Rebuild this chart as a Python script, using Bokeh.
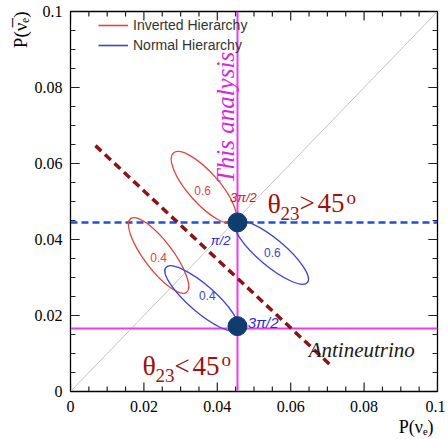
import math
from bokeh.plotting import figure
from bokeh.models import (Range1d, FixedTicker, Label, Legend, LegendItem, Title)
from bokeh.embed import file_html
from bokeh.resources import INLINE

# ---------------- data ----------------
x_ticks = [0.0, 0.02, 0.04, 0.06, 0.08, 0.1]
x_tick_labels = ["0", "0.02", "0.04", "0.06", "0.08", "0.1"]
y_ticks = [0.0, 0.02, 0.04, 0.06, 0.08, 0.1]
y_tick_labels = ["0", "0.02", "0.04", "0.06", "0.08", "0.1"]
minor_ticks = [0.005, 0.01, 0.015, 0.025, 0.03, 0.035, 0.045,
               0.05, 0.055, 0.065, 0.07, 0.075, 0.085, 0.09, 0.095]
x_title = "P(\u03bd\u2091)"
y_title = "P(\u03bd\u0305\u2091)"

hierarchy_names = ["Inverted Hierarchy", "Normal Hierarchy"]
hierarchy_colors = {"IH": "#e8423c", "NH": "#3a44d8"}

# ellipses (sin^2 theta23 = 0.6 / 0.4) for each hierarchy
ell_hier = ["IH", "IH", "NH", "NH"]
ell_label = ["0.6", "0.4", "0.6", "0.4"]
ell_x = [0.0363, 0.0240, 0.0548, 0.0357]
ell_y = [0.0537, 0.0358, 0.0366, 0.0245]
ell_major = [0.0250, 0.0252, 0.0255, 0.0257]
ell_minor = [0.0082, 0.0075, 0.0071, 0.0071]
ell_angle_deg = [-48.5, -52.8, -40.0, -41.0]
ell_label_x = [0.0360, 0.0240, 0.0550, 0.0373]
ell_label_y = [0.0529, 0.0353, 0.0366, 0.0253]

# delta_CP labels
delta_text = ["3\u03c0/2", "\u03c0/2", "3\u03c0/2"]
delta_hier = ["IH", "NH", "NH"]
delta_x = [0.0471, 0.0409, 0.0525]
delta_y = [0.0511, 0.0397, 0.0182]

# measured points ("This analysis")
analysis_p_nu = 0.0455
analysis_p_nubar = 0.0166
nh_max_p_nubar = 0.0445
point_x = [0.0455, 0.0455]
point_y = [0.0445, 0.0172]

diag_x = [0.0, 0.1]
diag_y = [0.0, 0.1]
octant_x = [0.0068, 0.0710]
octant_y = [0.0647, 0.0068]
full_x = [0.0, 0.1]

# ---------------- figure ----------------
p = figure(width=445, height=439, x_range=Range1d(0, 0.1), y_range=Range1d(0, 0.1),
           output_backend="svg", toolbar_location=None,
           min_border_left=70, min_border_right=8, min_border_top=11, min_border_bottom=48)
p.xgrid.visible = False
p.ygrid.visible = False
p.outline_line_color = "black"
p.outline_line_width = 1.3
p.background_fill_color = "white"
p.border_fill_color = "white"

for ax, ticks, labels, standoff in [(p.xaxis[0], x_ticks, x_tick_labels, 9),
                                    (p.yaxis[0], y_ticks, y_tick_labels, 8)]:
    ax.ticker = FixedTicker(ticks=ticks, minor_ticks=[])
    ax.major_tick_in = 0
    ax.major_tick_out = 0
    ax.minor_tick_in = 0
    ax.minor_tick_out = 0
    ax.axis_line_color = "black"
    ax.major_label_overrides = {t: l for t, l in zip(ticks, labels)}
    ax.major_label_text_font = "Liberation Serif"
    ax.major_label_text_font_size = "16px"
    ax.major_label_text_color = "black"
    ax.major_label_standoff = standoff

# axis titles, right-aligned (ROOT style)
p.add_layout(Title(text=y_title, align="right", text_font="Liberation Serif",
                   text_font_size="19px", text_font_style="normal", text_color="black",
                   standoff=2, offset=0), "left")
p.add_layout(Title(text=x_title, align="right", text_font="Liberation Serif",
                   text_font_size="18px", text_font_style="normal", text_color="black",
                   standoff=0, offset=4), "below")

# inward ROOT-style ticks on all four sides (lengths are styling, in data units)
maj_len_y, min_len_y = 0.0024, 0.0013   # vertical tick length on x axes
maj_len_x, min_len_x = 0.0025, 0.00135  # horizontal tick length on y axes
tick_color = "#222222"
lo, hi = 0.0, 0.1
for ticks, ly in [(x_ticks, maj_len_y), (minor_ticks, min_len_y)]:
    p.segment(x0=ticks, y0=[lo] * len(ticks), x1=ticks, y1=[lo + ly] * len(ticks),
              line_color=tick_color, line_width=1.2)
    p.segment(x0=ticks, y0=[hi] * len(ticks), x1=ticks, y1=[hi - ly] * len(ticks),
              line_color=tick_color, line_width=1.2)
for ticks, lx in [(y_ticks, maj_len_x), (minor_ticks, min_len_x)]:
    p.segment(x0=[lo] * len(ticks), y0=ticks, x1=[lo + lx] * len(ticks), y1=ticks,
              line_color=tick_color, line_width=1.2)
    p.segment(x0=[hi] * len(ticks), y0=ticks, x1=[hi - lx] * len(ticks), y1=ticks,
              line_color=tick_color, line_width=1.2)

# reference lines
p.line(diag_x, diag_y, line_color="#c4c4c4", line_width=1)
p.line([analysis_p_nu, analysis_p_nu], full_x, line_color="#ee3bee", line_width=2)
p.line(full_x, [analysis_p_nubar, analysis_p_nubar], line_color="#ee3bee", line_width=2)
p.line(full_x, [nh_max_p_nubar, nh_max_p_nubar], line_color="#1f4fd6", line_width=2.5,
       line_dash="7 4")
p.line(octant_x, octant_y, line_color="#8b1414", line_width=3.5, line_dash="8 5")

# ellipses
p.ellipse(x=ell_x, y=ell_y, width=ell_major, height=ell_minor,
          angle=[math.radians(a) for a in ell_angle_deg],
          fill_color=None, line_color=[hierarchy_colors[h] for h in ell_hier],
          line_width=1.3)

# points
p.scatter(point_x, point_y, size=19, color="#0f3d6e")

# legend (proxy line renderers carrying the legend styling only)
nan = float("nan")
r_ih = p.line([nan], [nan], line_color=hierarchy_colors["IH"], line_width=1.6)
r_nh = p.line([nan], [nan], line_color=hierarchy_colors["NH"], line_width=1.6)
legend = Legend(items=[LegendItem(label=hierarchy_names[0], renderers=[r_ih], index=0),
                       LegendItem(label=hierarchy_names[1], renderers=[r_nh], index=0)],
                location=(28, 336), border_line_color=None, background_fill_alpha=0,
                glyph_width=30, glyph_height=20, label_height=20, label_standoff=5,
                padding=0, margin=0, spacing=0,
                label_text_font="Liberation Sans", label_text_font_size="14px",
                label_text_color="#333333")
p.add_layout(legend)

# ellipse labels
for t, h, x, y in zip(ell_label, ell_hier, ell_label_x, ell_label_y):
    p.add_layout(Label(x=x, y=y, text=t, text_align="center", text_baseline="middle",
                       text_font="Liberation Sans", text_font_size="12px",
                       text_color=hierarchy_colors[h]))

# delta labels
delta_colors = {"IH": "#d41414", "NH": "#2a2ae0"}
delta_sizes = ["13px", "13px", "15px"]
for t, h, x, y, fs in zip(delta_text, delta_hier, delta_x, delta_y, delta_sizes):
    p.add_layout(Label(x=x, y=y, text=t, text_align="center", text_baseline="middle",
                       text_font="Liberation Sans", text_font_size=fs,
                       text_font_style="italic", text_color=delta_colors[h]))

# octant labels
octant_texts = [["\u03b8", "23", ">", "45", "o"], ["\u03b8", "23", "<", "45", "o"]]
octant_pos = [(0.0537, 0.0495), (0.0196, 0.0068)]
piece_dx = [0, 13, 32, 50, 79]
piece_dy = [0, -10, 0, 0, 6]
piece_size = ["28px", "19px", "27px", "27px", "19px"]
for texts, (ox, oy) in zip(octant_texts, octant_pos):
    for t, dx, dy, fs in zip(texts, piece_dx, piece_dy, piece_size):
        p.add_layout(Label(x=ox, y=oy, x_offset=dx, y_offset=dy, text=t,
                           text_align="left", text_baseline="alphabetic",
                           text_font="Liberation Serif", text_font_size=fs,
                           text_color="#a01010"))

p.add_layout(Label(x=0.0649, y=0.0108, text="Antineutrino", text_align="left",
                   text_baseline="alphabetic", text_font="Liberation Serif",
                   text_font_style="italic", text_font_size="21px", text_color="#1a1a1a"))
p.add_layout(Label(x=0.0422, y=0.0721, text="This analysis", angle=math.pi / 2,
                   text_align="center", text_baseline="middle", text_font="Liberation Serif",
                   text_font_style="italic", text_font_size="25px", text_color="#dd22dd"))

open("out.html", "w").write(file_html(p, INLINE))
